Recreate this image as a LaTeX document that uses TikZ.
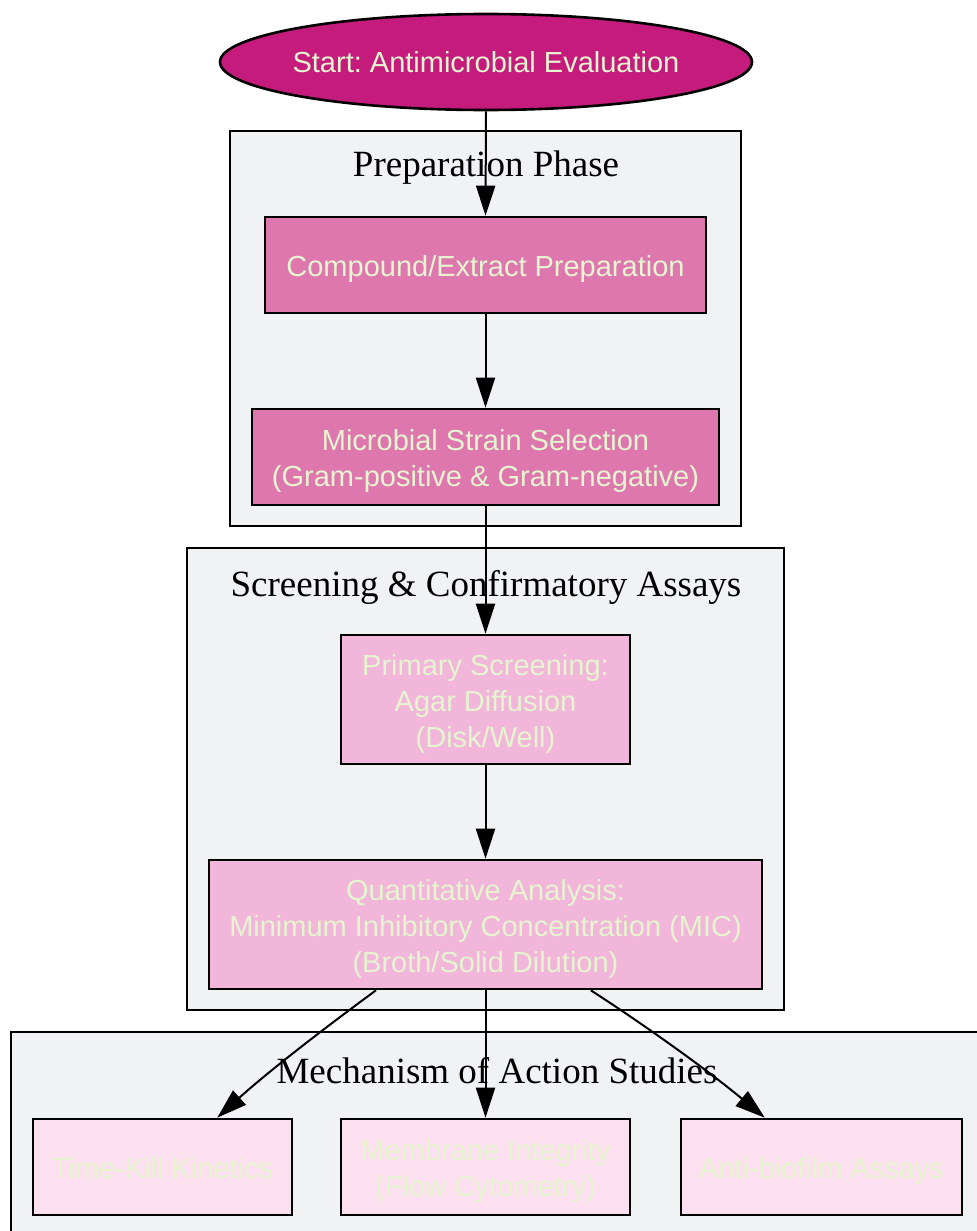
\documentclass[tikz,border=0pt]{standalone}
\usepackage{fontspec}
\setmainfont{Liberation Serif}
\newfontfamily\arialf{Liberation Sans}
\usetikzlibrary{arrows.meta,shapes.geometric}
\frenchspacing
\newcommand\tup{\rule{0pt}{15pt}}
\newcommand\tdn{\rule[-3.5pt]{0pt}{0pt}}
\definecolor{cstart}{HTML}{C51B7D}
\definecolor{cprep}{HTML}{DE77AE}
\definecolor{cscreen}{HTML}{F1B6DA}
\definecolor{cmoa}{HTML}{FDE0EF}
\definecolor{ctext}{HTML}{E6F5D0}
\definecolor{cclus}{HTML}{F1F2F4}
\tikzset{
  clusterbox/.style={draw=black, fill=cclus, line width=1pt},
  clusterlabel/.style={font=\fontsize{18.5}{22}\selectfont, text=black, inner sep=0pt},
  procbox/.style={draw=black, line width=1.3pt, rectangle, align=center, inner sep=0pt,
    text=ctext, font=\arialf\fontsize{14.5}{18}\selectfont},
  startnode/.style={draw=black, line width=1.3pt, ellipse, inner sep=0pt, fill=cstart,
    text=ctext, font=\arialf\fontsize{14.5}{18}\selectfont},
  flow/.style={draw=black, line width=1pt, -{Triangle[length=15pt,width=9.5pt]}},
}
\begin{document}
\begin{tikzpicture}[x=0.5pt,y=-0.5pt]
\useasboundingbox (0,0) rectangle (977,1231);
\clip (0,0) rectangle (977,1231);
\fill[white] (0,0) rectangle (977,1231);
% clusters
\draw[clusterbox] (230,131) rectangle (741,526);
\node[clusterlabel] (l1) at (486,168) {Preparation Phase};
\draw[clusterbox] (187,548) rectangle (784,1010);
\node[clusterlabel] (l2) at (486,587) {Screening \& Confirmatory Assays};
\draw[clusterbox] (11,1032) rectangle (1000,1260);
\node[clusterlabel] (l3) at (497,1071) {Mechanism of Action Studies};
% nodes
\node[startnode, minimum width=266pt, minimum height=48pt] (start) at (486,62) {\makebox[0pt]{Start: Antimicrobial Evaluation}};
\node[procbox, fill=cprep, minimum width=220.5pt, minimum height=48pt] (comp) at (485.5,265) {\tup Compound/Extract Preparation\tdn};
\node[procbox, fill=cprep, minimum width=233.5pt, minimum height=48pt] (micro) at (485.5,457) {\tup Microbial Strain Selection\\(Gram-positive \& Gram-negative)\tdn};
\node[procbox, fill=cscreen, minimum width=144.5pt, minimum height=64.5pt] (prim) at (485.5,699.5) {\tup Primary Screening:\\Agar Diffusion\\(Disk/Well)\tdn};
\node[procbox, fill=cscreen, minimum width=276.5pt, minimum height=64.5pt] (quant) at (485.5,924.5) {\tup Quantitative Analysis:\\Minimum Inhibitory Concentration (MIC)\\(Broth/Solid Dilution)\tdn};
\node[procbox, fill=cmoa, minimum width=129.5pt, minimum height=48pt] (tk) at (162.5,1167) {\tup Time-Kill Kinetics\tdn};
\node[procbox, fill=cmoa, minimum width=144.5pt, minimum height=48pt] (mem) at (485.5,1167) {\tup Membrane Integrity\\(Flow Cytometry)\tdn};
\node[procbox, fill=cmoa, minimum width=140.5pt, minimum height=48pt] (ab) at (821.5,1167) {\tup Anti-biofilm Assays\tdn};
% edges
\draw[flow] (start.south) -- (comp.north);
\draw[flow] (comp.south) -- (micro.north);
\draw[flow] (micro.south) -- (prim.north);
\draw[flow] (prim.south) -- (quant.north);
\draw[flow] (quant.211) .. controls (330,1024) and (270,1070) .. (tk.42);
\draw[flow] (quant.south) -- (mem.north);
\draw[flow] (quant.328.6) .. controls (640,1022) and (705,1068) .. (ab.139);
\end{tikzpicture}
\end{document}
